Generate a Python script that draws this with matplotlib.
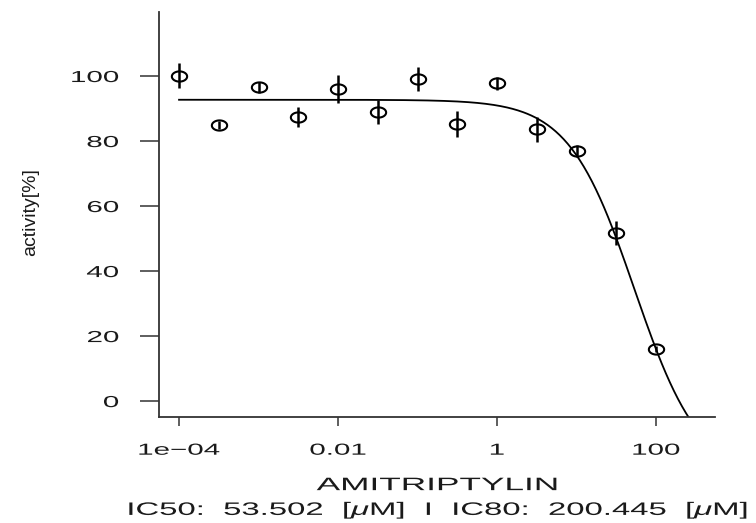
import matplotlib
matplotlib.use('Agg')
import matplotlib.pyplot as plt
import matplotlib.patheffects as pe
from matplotlib.path import Path
from matplotlib.transforms import Affine2D
import numpy as np

plt.rcParams['font.family'] = ['Liberation Sans', 'DejaVu Sans']
plt.rcParams['mathtext.fontset'] = 'custom'
plt.rcParams['mathtext.rm'] = 'Liberation Sans'
plt.rcParams['mathtext.it'] = 'Liberation Sans:italic'

# measured points (concentration in uM, activity in %)
conc = np.array([1e-4, 10**-3.5, 1e-3, 10**-2.5, 1e-2, 10**-1.5, 1e-1, 10**-0.5,
                 1.0, 10**0.5, 10.0, 10**1.5, 100.0])
activity = np.array([100.1, 84.9, 96.5, 87.4, 95.9, 89.0, 99.1, 85.1,
                     97.8, 83.6, 77.0, 51.6, 16.0])
err = np.array([3.8, 1.2, 1.8, 3.2, 4.3, 3.7, 3.7, 4.0,
                2.0, 3.8, 1.8, 3.7, 1.0])

# fitted dose-response curve parameters
fit_top = 92.7
fit_bottom = -23.8
ic50 = 53.502
ic80 = 200.445
hill = 1.05

x_ticks = [1e-4, 1e-2, 1, 100]
x_ticklabels = ['1e\u221204', '0.01', '1', '100']
y_ticks = [0, 20, 40, 60, 80, 100]


class StretchX(pe.AbstractPathEffect):
    # widen text horizontally around its anchor (the original picture is stretched)
    def __init__(self, sx, anchor='center'):
        super().__init__()
        self.sx = sx
        self.anchor = anchor

    def draw_path(self, renderer, gc, tpath, affine, rgbFace=None):
        bb = tpath.get_extents(affine)
        if self.anchor == 'right':
            x0 = bb.x1
        elif self.anchor == 'left':
            x0 = bb.x0
        else:
            x0 = (bb.x0 + bb.x1) / 2
        t = affine + Affine2D().translate(-x0, 0).scale(self.sx, 1).translate(x0, 0)
        renderer.draw_path(gc, tpath, t, rgbFace)


W, H = 756, 523
fig = plt.figure(figsize=(W / 100, H / 100), dpi=100)
ax = fig.add_axes([159 / W, 1 - 417 / H, 556 / W, 405 / H])

# open ellipse marker, wider than tall
theta = np.linspace(0, 2 * np.pi, 60)
ellipse = Path(np.column_stack([1.5 * np.cos(theta), np.sin(theta)]), closed=True)

x_fit = np.logspace(-4, 2.75, 400)
y_fit = fit_bottom + (fit_top - fit_bottom) / (1 + (x_fit / ic50) ** hill)
ax.plot(x_fit, y_fit, color='black', lw=1.3)

ax.errorbar(conc, activity, yerr=err, fmt='none', ecolor='black',
            elinewidth=1.8, capsize=0)
ax.plot(conc, activity, linestyle='none', marker=ellipse, ms=11,
        mfc='none', mec='black', mew=1.5)

ax.set_xscale('log')
ax.set_xlim(10 ** -4.252, 10 ** 2.742)
ax.set_ylim(-4.9, 119.7)

ax.spines['top'].set_visible(False)
ax.spines['right'].set_visible(False)
for s in ['left', 'bottom']:
    ax.spines[s].set_linewidth(1.3)
    ax.spines[s].set_color('#333333')

ax.set_xticks(x_ticks)
ax.set_xticklabels(x_ticklabels)
ax.xaxis.set_minor_locator(matplotlib.ticker.NullLocator())
ax.set_yticks(y_ticks)
ax.set_yticklabels([str(v) for v in y_ticks])

ax.tick_params(axis='x', length=6.5, width=1.1, pad=12, labelsize=11.5,
               color='#333333', labelcolor='#1a1a1a')
ax.tick_params(axis='y', length=14, width=1.1, pad=15, labelsize=11.5,
               color='#333333', labelcolor='#1a1a1a')

for lab in ax.get_xticklabels():
    lab.set_path_effects([StretchX(1.85, 'center')])
for lab in ax.get_yticklabels():
    lab.set_path_effects([StretchX(1.85, 'right')])

ax.set_xlabel('AMITRIPTYLIN', fontsize=13, labelpad=14, color='#1a1a1a')
ax.xaxis.label.set_path_effects([StretchX(1.95, 'center')])

ax.set_ylabel('activity[%]', fontsize=14, color='#1a1a1a')
ax.yaxis.set_label_coords(-0.216, 0.505)

fig.text(437.5 / W, 8 / H,
         'IC50:  %.3f  [$\\mu$M]  I  IC80:  %.3f  [$\\mu$M]' % (ic50, ic80),
         ha='center', va='baseline', fontsize=13, color='#1a1a1a',
         path_effects=[StretchX(1.82, 'center')])

fig.savefig('out.png', dpi=100)
